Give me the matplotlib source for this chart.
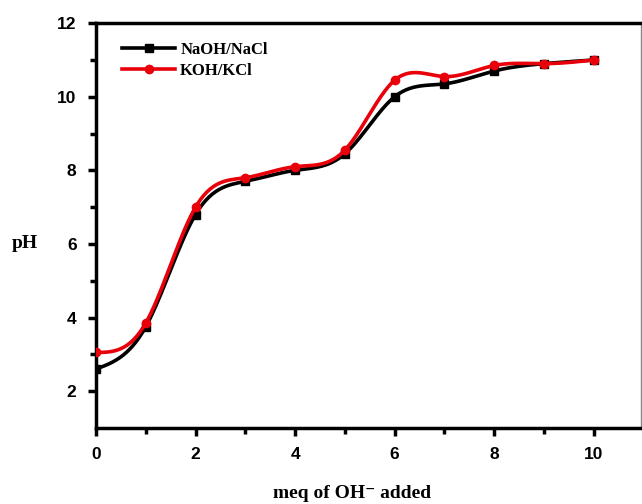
import numpy as np
import matplotlib
matplotlib.use("Agg")
import matplotlib.pyplot as plt

# meq of OH- added
meq = [0, 1, 2, 3, 4, 5, 6, 7, 8, 9, 10]
ph_naoh = [2.6, 3.75, 6.8, 7.7, 8.0, 8.45, 10.0, 10.35, 10.7, 10.9, 11.0]
ph_koh = [3.05, 3.85, 7.0, 7.8, 8.1, 8.55, 10.45, 10.55, 10.85, 10.9, 11.0]


def spline(x, y, n=30):
    # natural cubic spline, only used to draw a smooth line through the points
    x = np.asarray(x, float)
    y = np.asarray(y, float)
    h = np.diff(x)
    m = len(x)
    A = np.zeros((m, m))
    r = np.zeros(m)
    A[0, 0] = A[-1, -1] = 1
    for i in range(1, m - 1):
        A[i, i - 1] = h[i - 1]
        A[i, i] = 2 * (h[i - 1] + h[i])
        A[i, i + 1] = h[i]
        r[i] = 6 * ((y[i + 1] - y[i]) / h[i] - (y[i] - y[i - 1]) / h[i - 1])
    M = np.linalg.solve(A, r)
    xs, ys = [], []
    for i in range(m - 1):
        t = np.linspace(x[i], x[i + 1], n, endpoint=False)
        a = (x[i + 1] - t) / h[i]
        b = (t - x[i]) / h[i]
        s = a * y[i] + b * y[i + 1] + ((a**3 - a) * M[i] + (b**3 - b) * M[i + 1]) * h[i]**2 / 6
        xs.extend(t)
        ys.extend(s)
    xs.append(x[-1])
    ys.append(y[-1])
    return np.array(xs), np.array(ys)


fig = plt.figure(figsize=(6.42, 5.04), dpi=100)
ax = fig.add_axes([0.1495, 0.151, 0.849, 0.803])

sx, sy = spline(meq, ph_naoh)
ax.plot(sx, sy, color="black", lw=2.6, zorder=2)
ax.plot(meq, ph_naoh, "s", color="black", ms=6, zorder=3)
sx, sy = spline(meq, ph_koh)
ax.plot(sx, sy, color="#e8000b", lw=2.6, zorder=4)
ax.plot(meq, ph_koh, "o", color="#e8000b", ms=6, zorder=5)

# legend handles
ax.plot([], [], "-s", color="black", lw=2.6, ms=6, label="NaOH/NaCl")
ax.plot([], [], "-o", color="#e8000b", lw=2.6, ms=6, label="KOH/KCl")
ax.legend(loc="upper left", frameon=False, bbox_to_anchor=(0.02, 0.99),
          handlelength=3.2, handletextpad=0.3, labelspacing=0.3,
          prop={"family": "Liberation Serif", "weight": "bold", "size": 12})

ax.set_xlim(0, 10.95)
ax.set_ylim(1, 12)
ax.set_xticks([0, 2, 4, 6, 8, 10])
ax.set_xticks([1, 3, 5, 7, 9], minor=True)
ax.set_yticks([2, 4, 6, 8, 10, 12])
ax.set_yticks([3, 5, 7, 9, 11], minor=True)
ax.tick_params(which="major", direction="out", length=6, width=2.5, pad=8)
ax.tick_params(which="minor", direction="out", length=4, width=2.5)
for lab in ax.get_xticklabels() + ax.get_yticklabels():
    lab.set_fontfamily("Liberation Sans")
    lab.set_fontweight("bold")
    lab.set_fontsize(12.5)

for side in ["left", "bottom", "top"]:
    ax.spines[side].set_linewidth(2.5)
ax.spines["right"].set_linewidth(1.0)
ax.spines["right"].set_color("#888888")

ax.set_xlabel("meq of OH\u207b added", family=["Liberation Serif", "DejaVu Serif"],
              weight="bold", fontsize=14)
ax.xaxis.set_label_coords(0.47, -0.14)
ax.set_ylabel("pH", family="Liberation Serif", weight="bold", fontsize=14,
              rotation=0, va="center")
ax.yaxis.set_label_coords(-0.13, 0.455)

fig.savefig("out.png", dpi=100)
